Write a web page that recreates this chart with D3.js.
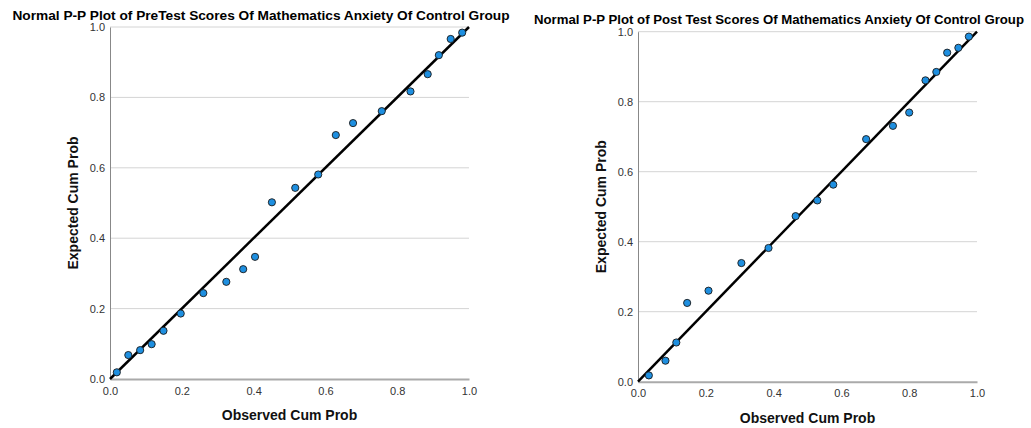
<!DOCTYPE html>
<html>
<head>
<meta charset="utf-8">
<script src="https://cdn.jsdelivr.net/npm/d3@7"></script>
<style>
    body { margin: 0; background: #fff; }
    svg { display: block; font-family: "Liberation Sans", Arial, sans-serif; }
</style>
</head>
<body>
<svg id="chart" width="1031" height="428"></svg>
<script>
// Observed / expected cumulative probabilities
const preObserved = [0.019, 0.051, 0.084, 0.116, 0.149, 0.197, 0.260, 0.324, 0.371, 0.404, 0.451,
    0.516, 0.580, 0.629, 0.677, 0.757, 0.837, 0.885, 0.916, 0.949, 0.981];
const preExpected = [0.019, 0.068, 0.082, 0.099, 0.137, 0.186, 0.244, 0.276, 0.312, 0.347, 0.502,
    0.543, 0.581, 0.693, 0.727, 0.761, 0.817, 0.866, 0.920, 0.966, 0.984];

const postObserved = [0.032, 0.081, 0.113, 0.145, 0.208, 0.305, 0.385, 0.465, 0.529, 0.576,
    0.673, 0.752, 0.800, 0.848, 0.880, 0.912, 0.945, 0.976];
const postExpected = [0.018, 0.060, 0.112, 0.225, 0.260, 0.339, 0.382, 0.473, 0.518, 0.563,
    0.693, 0.731, 0.769, 0.861, 0.885, 0.940, 0.954, 0.986];

const tickValues = [0, 0.2, 0.4, 0.6, 0.8, 1.0];
const titles = [
    "Normal P-P Plot of PreTest Scores Of Mathematics Anxiety Of Control Group",
    "Normal P-P Plot of Post Test Scores Of Mathematics Anxiety Of Control Group"
];

const svg = d3.select('#chart');

function drawPanel(cfg) {
    const x = d3.scaleLinear().domain([0, 1]).range([cfg.left, cfg.right]);
    const y = d3.scaleLinear().domain([0, 1]).range([cfg.bottom, cfg.top]);
    const g = svg.append('g');

    // gridlines
    g.append('g')
        .selectAll('line')
        .data(tickValues.slice(1))
        .enter().append('line')
        .attr('x1', cfg.left)
        .attr('x2', cfg.right)
        .attr('y1', d => y(d))
        .attr('y2', d => y(d))
        .attr('stroke', '#d4d4d4')
        .attr('stroke-width', 1);

    // axes
    const yAxis = g.append('g')
        .attr('transform', `translate(${cfg.left},0)`)
        .call(d3.axisLeft(y).tickValues(tickValues).tickFormat(d3.format('.1f')).tickSize(0).tickPadding(5));
    yAxis.select('.domain').attr('stroke', '#888').attr('stroke-width', 1);

    const xAxis = g.append('g')
        .attr('transform', `translate(0,${cfg.bottom})`)
        .call(d3.axisBottom(x).tickValues(tickValues).tickFormat(d3.format('.1f')).tickSize(0).tickPadding(8));
    xAxis.select('.domain').attr('stroke', '#aaa').attr('stroke-width', 2);

    g.selectAll('.tick text')
        .attr('fill', '#333')
        .style('font-size', '11px')
        .style('font-family', '"Liberation Sans", Arial, sans-serif');

    // reference line
    g.append('line')
        .attr('x1', x(0))
        .attr('y1', y(0))
        .attr('x2', x(1))
        .attr('y2', y(1))
        .attr('stroke', '#000')
        .attr('stroke-width', 2.5);

    // points
    g.append('g')
        .selectAll('circle')
        .data(cfg.observed.map((o, i) => [o, cfg.expected[i]]))
        .enter().append('circle')
        .attr('cx', d => x(d[0]))
        .attr('cy', d => y(d[1]))
        .attr('r', 3.6)
        .attr('fill', '#1e8fe0')
        .attr('stroke', '#1a1a1a')
        .attr('stroke-width', 0.9);

    // labels
    g.append('text')
        .attr('x', cfg.titleX)
        .attr('y', cfg.titleY)
        .attr('text-anchor', 'middle')
        .style('font-size', cfg.titleSize + 'px')
        .style('font-weight', 'bold')
        .attr('fill', '#000')
        .text(cfg.title);

    g.append('text')
        .attr('x', (cfg.left + cfg.right) / 2)
        .attr('y', cfg.bottom + 41)
        .attr('text-anchor', 'middle')
        .style('font-size', '14px')
        .style('font-weight', 'bold')
        .attr('fill', '#111')
        .text('Observed Cum Prob');

    g.append('text')
        .attr('transform', `translate(${cfg.left - 32},${(cfg.top + cfg.bottom) / 2}) rotate(-90)`)
        .attr('text-anchor', 'middle')
        .style('font-size', '14px')
        .style('font-weight', 'bold')
        .attr('fill', '#111')
        .text('Expected Cum Prob');
}

drawPanel({
    left: 110, right: 469, top: 27, bottom: 379,
    titleX: 261, titleY: 20, titleSize: 13.7, title: titles[0],
    observed: preObserved, expected: preExpected
});

drawPanel({
    left: 638, right: 977, top: 31.7, bottom: 381.7,
    titleX: 779, titleY: 24, titleSize: 13.2, title: titles[1],
    observed: postObserved, expected: postExpected
});
</script>
</body>
</html>
